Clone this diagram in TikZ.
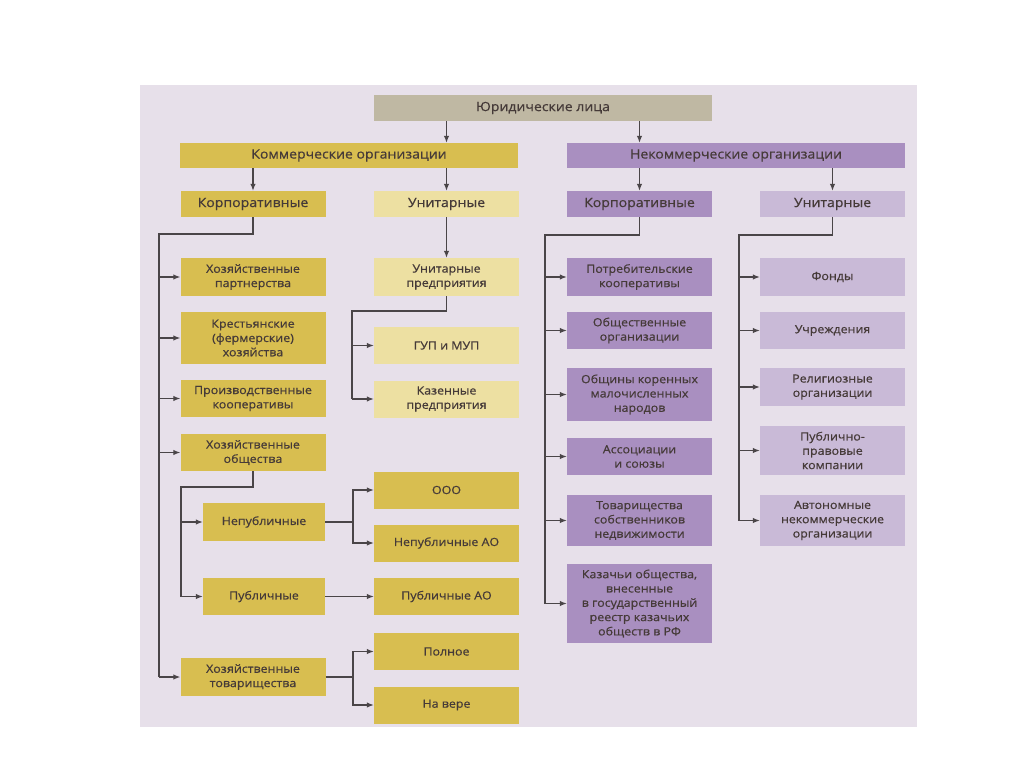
\documentclass[tikz,border=0pt]{standalone}
\usepackage{fontspec}
\setmainfont{Open Sans}[FakeStretch=1.1, FakeBold=0.6]
\usetikzlibrary{arrows.meta}
\definecolor{panel}{HTML}{E7E0EA}
\definecolor{jurc}{HTML}{BFB8A3}
\definecolor{ydark}{HTML}{D8BE50}
\definecolor{ylight}{HTML}{EDE0A2}
\definecolor{pdark}{HTML}{A98FC0}
\definecolor{plight}{HTML}{C9BAD7}
\definecolor{txt}{HTML}{453A38}
\definecolor{lnc}{HTML}{4A4548}
\tikzset{
  box/.style={inner sep=0pt, align=center, text=txt, font=\fontsize{11.3}{14.3}\selectfont},
  head/.style={box, font=\fontsize{12.8}{15}\selectfont},
  ln/.style={draw=lnc, line width=1.2pt},
  arr/.style={ln, -{Latex[length=7pt,width=5.5pt]}},
  w145/.style={minimum width=145pt},
  w122/.style={minimum width=122pt},
  w338/.style={minimum width=338pt}
}
\begin{document}
\begin{tikzpicture}[x=1pt,y=-1pt]
\useasboundingbox (0,0) rectangle (1024,767);
\fill[white] (0,0) rectangle (1024,767);
\fill[panel] (140,85) rectangle (917,727);

% top levels
\node[head, fill=jurc, w338, minimum height=26pt] (jur) at (543,108) {Юридические лица};
\node[head, fill=ydark, w338, minimum height=25pt] (kom) at (349,155.5) {Коммерческие организации};
\node[head, fill=pdark, w338, minimum height=25pt] (nkom) at (736,155.5) {Некоммерческие организации};
\node[head, fill=ydark, w145, minimum height=26pt] (corp) at (253,204) {Корпоративные};
\node[head, fill=ylight, w145, minimum height=26pt] (uni) at (446.5,204) {Унитарные};
\node[head, fill=pdark, w145, minimum height=26pt] (ncorp) at (639.5,204) {Корпоративные};
\node[head, fill=plight, w145, minimum height=26pt] (nuni) at (832.5,204) {Унитарные};

% commercial corporate
\node[box, fill=ydark, w145, minimum height=38pt] (hp) at (253,277) {Хозяйственные\\партнерства};
\node[box, fill=ydark, w145, minimum height=52pt] (kfh) at (253,338) {Крестьянские\\(фермерские)\\хозяйства};
\node[box, fill=ydark, w145, minimum height=37pt] (pk) at (253,398.5) {Производственные\\кооперативы};
\node[box, fill=ydark, w145, minimum height=37pt] (ho) at (253,452.5) {Хозяйственные\\общества};
\node[box, fill=ydark, w122, minimum height=38pt] (np) at (264,522) {Непубличные};
\node[box, fill=ydark, w122, minimum height=37pt] (pub) at (264,596.5) {Публичные};
\node[box, fill=ydark, w145, minimum height=38pt] (ht) at (253,677) {Хозяйственные\\товарищества};

% commercial unitary + results
\node[box, fill=ylight, w145, minimum height=38pt] (up) at (446.5,277) {Унитарные\\предприятия};
\node[box, fill=ylight, w145, minimum height=37pt] (gup) at (446.5,345.5) {ГУП и МУП};
\node[box, fill=ylight, w145, minimum height=37pt] (kaz) at (446.5,399) {Казенные\\предприятия};
\node[box, fill=ydark, w145, minimum height=37pt] (ooo) at (446.5,490) {ООО};
\node[box, fill=ydark, w145, minimum height=37pt] (npao) at (446.5,543) {Непубличные АО};
\node[box, fill=ydark, w145, minimum height=37pt] (pao) at (446.5,596.5) {Публичные АО};
\node[box, fill=ydark, w145, minimum height=37pt] (poln) at (446.5,651.5) {Полное};
\node[box, fill=ydark, w145, minimum height=37pt] (vere) at (446.5,705) {На вере};

% non-commercial corporate
\node[box, fill=pdark, w145, minimum height=38pt] (potr) at (639.5,277) {Потребительские\\кооперативы};
\node[box, fill=pdark, w145, minimum height=37pt] (obsh) at (639.5,330.5) {Общественные\\организации};
\node[box, fill=pdark, w145, minimum height=53pt] (obshiny) at (639.5,394.5) {Общины коренных\\малочисленных\\народов};
\node[box, fill=pdark, w145, minimum height=37pt] (assoc) at (639.5,456.5) {Ассоциации\\и союзы};
\node[box, fill=pdark, w145, minimum height=51pt] (tsn) at (639.5,520.5) {Товарищества\\собственников\\недвижимости};
\node[box, fill=pdark, w145, minimum height=79pt] (kazach) at (639.5,603.5) {Казачьи общества,\\внесенные\\в государственный\\реестр казачьих\\обществ в РФ};

% non-commercial unitary
\node[box, fill=plight, w145, minimum height=38pt] (fond) at (832.5,277) {Фонды};
\node[box, fill=plight, w145, minimum height=37pt] (uchr) at (832.5,330.5) {Учреждения};
\node[box, fill=plight, w145, minimum height=38pt] (relig) at (832.5,387) {Религиозные\\организации};
\node[box, fill=plight, w145, minimum height=49pt] (ppk) at (832.5,450.5) {Публично-\\правовые\\компании};
\node[box, fill=plight, w145, minimum height=51pt] (ano) at (832.5,520.5) {Автономные\\некоммерческие\\организации};

% top connectors
\draw[arr] (jur.south -| uni) -- (uni |- kom.north);
\draw[arr] (jur.south -| ncorp) -- (ncorp |- nkom.north);
\draw[arr] (kom.south -| corp) -- (corp.north);
\draw[arr] (kom.south -| uni) -- (uni.north);
\draw[arr] (nkom.south -| ncorp) -- (ncorp.north);
\draw[arr] (nkom.south -| nuni) -- (nuni.north);
\draw[arr] (uni.south) -- (up.north);

% left trunk
\coordinate (L1) at (159,234);
\draw[ln] (corp.south) |- (L1) -- (L1 |- ht.west);
\foreach \n in {hp,kfh,pk,ho,ht} \draw[arr] (L1 |- \n.west) -- (\n.west);

% societies
\coordinate (L2) at (181,487);
\draw[ln] (ho.south) |- (L2) -- (L2 |- pub.west);
\foreach \n in {np,pub} \draw[arr] (L2 |- \n.west) -- (\n.west);

% brackets
\coordinate (B1) at (353,0);
\draw[ln] (np.east) -- (B1 |- np.east);
\draw[arr] (B1 |- np.east) |- (ooo.west);
\draw[arr] (B1 |- np.east) |- (npao.west);
\draw[arr] (pub.east) -- (pao.west);
\draw[ln] (ht.east) -- (B1 |- ht.east);
\draw[arr] (B1 |- ht.east) |- (poln.west);
\draw[arr] (B1 |- ht.east) |- (vere.west);

% unitary enterprises
\coordinate (M1) at (352,311);
\draw[ln] (up.south) |- (M1) -- (M1 |- kaz.west);
\foreach \n in {gup,kaz} \draw[arr] (M1 |- \n.west) -- (\n.west);

% non-commercial trunks
\coordinate (R1) at (545,235);
\draw[ln] (ncorp.south) |- (R1) -- (R1 |- kazach.west);
\foreach \n in {potr,obsh,obshiny,assoc,tsn,kazach} \draw[arr] (R1 |- \n.west) -- (\n.west);
\coordinate (R2) at (739,235);
\draw[ln] (nuni.south) |- (R2) -- (R2 |- ano.west);
\foreach \n in {fond,uchr,relig,ppk,ano} \draw[arr] (R2 |- \n.west) -- (\n.west);
\end{tikzpicture}
\end{document}
